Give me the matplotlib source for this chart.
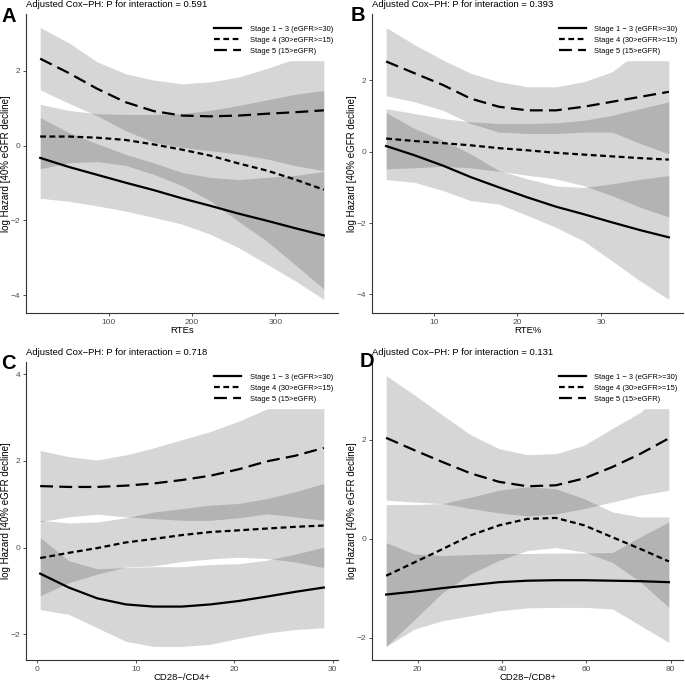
import matplotlib
matplotlib.use("Agg")
import matplotlib.pyplot as plt

plt.rcParams["font.family"] = ["Liberation Sans", "DejaVu Sans"]

stage_names = ["Stage 1 \u2212 3 (eGFR>=30)", "Stage 4 (30>eGFR>=15)", "Stage 5 (15>eGFR)"]
p_interaction = ["0.591", "0.393", "0.718", "0.131"]
x_titles = ["RTEs", "RTE%", "CD28\u2212/CD4+", "CD28\u2212/CD8+"]
tags = ["A", "B", "C", "D"]

# A: RTEs
a_x = [18, 52, 86, 120, 154, 188, 222, 256, 290, 324, 358]
a_fit_s13 = [-0.33, -0.57, -0.78, -0.99, -1.19, -1.41, -1.61, -1.82, -2.01, -2.21, -2.40]
a_lo_s13 = [-1.41, -1.49, -1.61, -1.75, -1.92, -2.10, -2.37, -2.73, -3.17, -3.62, -4.11]
a_hi_s13 = [0.75, 0.35, 0.05, -0.23, -0.46, -0.72, -0.85, -0.91, -0.85, -0.80, -0.69]
a_fit_s4 = [0.24, 0.24, 0.21, 0.15, 0.03, -0.11, -0.27, -0.48, -0.67, -0.91, -1.18]
a_lo_s4 = [-0.62, -0.46, -0.43, -0.53, -0.77, -1.07, -1.48, -2.03, -2.56, -3.19, -3.83]
a_hi_s4 = [1.10, 0.94, 0.85, 0.83, 0.83, 0.85, 0.94, 1.07, 1.22, 1.37, 1.47]
a_fit_s5 = [2.32, 1.94, 1.52, 1.16, 0.92, 0.80, 0.78, 0.80, 0.85, 0.89, 0.94]
a_lo_s5 = [1.49, 1.13, 0.80, 0.40, 0.09, -0.05, -0.14, -0.23, -0.36, -0.54, -0.67]
a_hi_s5 = [3.15, 2.75, 2.24, 1.92, 1.75, 1.65, 1.70, 1.83, 2.06, 2.32, 2.55]
a_xticks = [100, 200, 300]
a_yticks = [-4, -2, 0, 2]

# B: RTE%
b_x = [4.3, 7.7, 11.1, 14.4, 17.8, 21.2, 24.6, 27.9, 31.3, 34.7, 38.1]
b_fit_s13 = [0.16, -0.10, -0.39, -0.71, -1.00, -1.28, -1.54, -1.75, -1.98, -2.20, -2.40]
b_lo_s13 = [-0.78, -0.86, -1.09, -1.37, -1.47, -1.79, -2.12, -2.50, -3.06, -3.63, -4.14]
b_hi_s13 = [1.10, 0.65, 0.32, -0.06, -0.53, -0.76, -0.96, -1.00, -0.90, -0.77, -0.67]
b_fit_s4 = [0.37, 0.30, 0.24, 0.18, 0.10, 0.04, -0.03, -0.08, -0.13, -0.18, -0.22]
b_lo_s4 = [-0.48, -0.45, -0.41, -0.45, -0.55, -0.66, -0.76, -0.95, -1.23, -1.56, -1.83]
b_hi_s4 = [1.21, 1.07, 0.93, 0.84, 0.79, 0.79, 0.81, 0.88, 1.02, 1.21, 1.40]
b_fit_s5 = [2.53, 2.20, 1.87, 1.49, 1.26, 1.16, 1.16, 1.26, 1.40, 1.54, 1.68]
b_lo_s5 = [1.57, 1.40, 1.16, 0.79, 0.55, 0.51, 0.51, 0.55, 0.55, 0.23, -0.06]
b_hi_s5 = [3.48, 3.00, 2.57, 2.20, 1.96, 1.82, 1.82, 1.96, 2.24, 2.85, 3.42]
b_xticks = [10, 20, 30]
b_yticks = [-4, -2, 0, 2]

# C: CD28-/CD4+
c_x = [0.3, 3.2, 6.1, 9.0, 11.8, 14.7, 17.6, 20.5, 23.3, 26.2, 29.1]
c_fit_s13 = [-0.60, -0.92, -1.17, -1.31, -1.36, -1.36, -1.31, -1.23, -1.13, -1.02, -0.92]
c_lo_s13 = [-1.43, -1.54, -1.85, -2.16, -2.28, -2.28, -2.23, -2.09, -1.97, -1.89, -1.85]
c_hi_s13 = [0.23, -0.30, -0.49, -0.46, -0.44, -0.44, -0.39, -0.37, -0.29, -0.15, 0.01]
c_fit_s4 = [-0.24, -0.12, -0.01, 0.12, 0.20, 0.29, 0.36, 0.40, 0.44, 0.48, 0.51]
c_lo_s4 = [-1.11, -0.81, -0.61, -0.45, -0.42, -0.32, -0.26, -0.22, -0.25, -0.33, -0.46]
c_hi_s4 = [0.63, 0.57, 0.59, 0.69, 0.82, 0.90, 0.98, 1.02, 1.13, 1.29, 1.48]
c_fit_s5 = [1.42, 1.40, 1.40, 1.43, 1.48, 1.56, 1.66, 1.81, 1.99, 2.12, 2.30]
c_lo_s5 = [0.60, 0.71, 0.77, 0.71, 0.67, 0.63, 0.63, 0.69, 0.78, 0.71, 0.63]
c_hi_s5 = [2.24, 2.10, 2.02, 2.14, 2.30, 2.49, 2.68, 2.92, 3.20, 3.53, 3.97]
c_xticks = [0, 10, 20, 30]
c_yticks = [-2, 0, 2, 4]

# D: CD28-/CD8+
d_x = [12.5, 19.2, 25.9, 32.6, 39.3, 46.0, 52.8, 59.5, 66.2, 72.9, 79.6]
d_fit_s13 = [-1.13, -1.07, -1.00, -0.94, -0.88, -0.85, -0.84, -0.84, -0.85, -0.86, -0.88]
d_lo_s13 = [-2.18, -1.83, -1.66, -1.56, -1.46, -1.40, -1.39, -1.39, -1.42, -1.76, -2.10]
d_hi_s13 = [-0.08, -0.31, -0.34, -0.32, -0.30, -0.30, -0.29, -0.29, -0.28, 0.04, 0.34]
d_fit_s4 = [-0.75, -0.48, -0.21, 0.07, 0.27, 0.40, 0.42, 0.27, 0.03, -0.21, -0.46]
d_lo_s4 = [-2.18, -1.64, -1.09, -0.71, -0.44, -0.24, -0.18, -0.27, -0.48, -0.88, -1.39]
d_hi_s4 = [0.69, 0.69, 0.71, 0.84, 0.98, 1.05, 1.01, 0.81, 0.54, 0.44, 0.44]
d_fit_s5 = [2.04, 1.79, 1.55, 1.32, 1.15, 1.06, 1.08, 1.22, 1.45, 1.72, 2.03]
d_lo_s5 = [0.78, 0.74, 0.71, 0.61, 0.52, 0.46, 0.50, 0.61, 0.74, 0.88, 0.98]
d_hi_s5 = [3.30, 2.91, 2.50, 2.10, 1.82, 1.70, 1.72, 1.89, 2.23, 2.56, 3.08]
d_xticks = [20, 40, 60, 80]
d_yticks = [-2, 0, 2]

panels = [
    (a_x, [(a_fit_s13, a_lo_s13, a_hi_s13), (a_fit_s4, a_lo_s4, a_hi_s4), (a_fit_s5, a_lo_s5, a_hi_s5)], a_xticks, a_yticks),
    (b_x, [(b_fit_s13, b_lo_s13, b_hi_s13), (b_fit_s4, b_lo_s4, b_hi_s4), (b_fit_s5, b_lo_s5, b_hi_s5)], b_xticks, b_yticks),
    (c_x, [(c_fit_s13, c_lo_s13, c_hi_s13), (c_fit_s4, c_lo_s4, c_hi_s4), (c_fit_s5, c_lo_s5, c_hi_s5)], c_xticks, c_yticks),
    (d_x, [(d_fit_s13, d_lo_s13, d_hi_s13), (d_fit_s4, d_lo_s4, d_hi_s4), (d_fit_s5, d_lo_s5, d_hi_s5)], d_xticks, d_yticks),
]

line_styles = ["-", (0, (2.6, 1.6)), (0, (5.8, 2.8))]

W, H = 685, 682
fig = plt.figure(figsize=(W / 100, H / 100), dpi=100)

# axes boxes in pixels: left, top, right, bottom
boxes = [(26, 14, 338, 313), (372, 14, 683, 313), (26, 362, 338, 660), (372, 362, 683, 660)]
tag_pos = [(1.5, 21.7), (351, 20.7), (1.5, 369), (360, 367)]

for i, (x, series, xt, yt) in enumerate(panels):
    l, t, r, b = boxes[i]
    ax = fig.add_axes([l / W, 1 - b / H, (r - l) / W, (b - t) / H])
    # confidence bands first, then the fitted curves on top
    for fit, lo, hi in series:
        ax.fill_between(x, lo, hi, color="black", alpha=0.16, linewidth=0)
    handles = []
    for (fit, lo, hi), ls, name in zip(series, line_styles, stage_names):
        ln, = ax.plot(x, fit, color="black", linestyle=ls, linewidth=1.6,
                      dash_capstyle="butt", label=name)
        handles.append(ln)
    ax.set_xticks(xt)
    ax.set_yticks(yt)
    ax.spines["top"].set_visible(False)
    ax.spines["right"].set_visible(False)
    for s in ("left", "bottom"):
        ax.spines[s].set_linewidth(0.8)
        ax.spines[s].set_color("#333333")
    ax.tick_params(length=2, width=0.6, color="#333333", labelsize=6,
                   labelcolor="#4D4D4D", pad=2)
    ax.set_xlabel(x_titles[i], fontsize=6.8)
    ax.set_ylabel("log Hazard [40% eGFR decline]", fontsize=7)
    ax.xaxis.set_label_coords(0.5, -0.042)
    ax.yaxis.set_label_coords(-0.048, 0.5)
    # white legend box sits over the bands, as in the original
    leg = ax.legend(handles=handles, loc="upper right", bbox_to_anchor=(1.0, 0.978),
                    borderaxespad=0, fontsize=5.4, handlelength=3.6,
                    labelspacing=0.48, borderpad=0.7, handletextpad=1.1,
                    frameon=True, fancybox=False, framealpha=1,
                    facecolor="white", edgecolor="white")
    leg.set_zorder(10)
    ax.annotate("Adjusted Cox\u2212PH: P for interaction = " + p_interaction[i],
                xy=(0, 1), xycoords="axes fraction", xytext=(0, 4.7),
                textcoords="offset points", ha="left", va="baseline", fontsize=6.8)
    tx, ty = tag_pos[i]
    fig.text(tx / W, 1 - ty / H, tags[i], fontsize=14.5, fontweight="bold",
             ha="left", va="baseline")

fig.savefig("out.png", dpi=100)
